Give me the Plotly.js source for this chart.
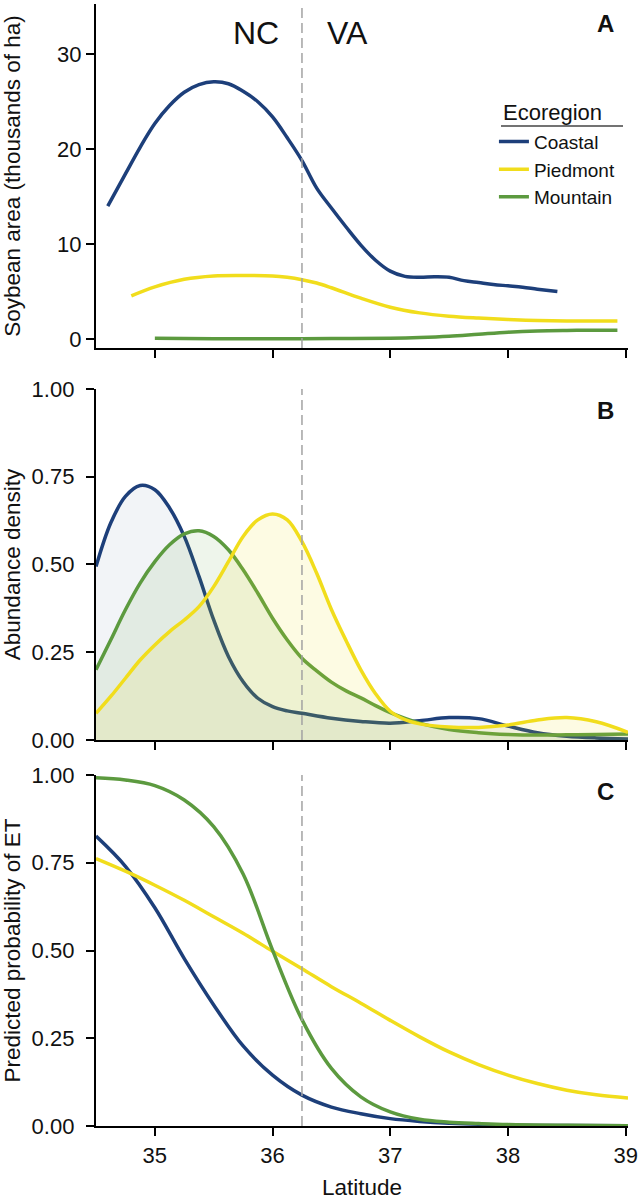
<!DOCTYPE html>
<html>
<head>
<meta charset="utf-8">
<script src="https://cdn.plot.ly/plotly-3.0.1.min.js"></script>
<style>html,body{margin:0;padding:0;background:#fff;}#chart{width:640px;height:1200px;}</style>
</head>
<body>
<div id="chart"></div>
<script>
// ---- Panel A: soybean area (thousands of ha) ----
const areaCoastalLat = [34.60,34.75,34.875,35.0,35.125,35.25,35.375,35.5,35.625,35.75,35.875,36.0,36.125,36.25,36.375,36.5,36.625,36.75,36.875,37.0,37.125,37.25,37.375,37.5,37.625,37.75,37.875,38.0,38.125,38.25,38.42];
const areaCoastal    = [14.0,17.4,20.2,22.7,24.6,26.0,26.8,27.1,26.9,26.1,25.0,23.4,21.2,18.8,15.9,13.8,11.8,9.9,8.3,7.15,6.6,6.5,6.55,6.5,6.15,5.95,5.75,5.6,5.45,5.25,5.0];
const areaPiedmontLat = [34.80,35.0,35.25,35.5,35.75,36.0,36.125,36.25,36.375,36.5,36.75,37.0,37.25,37.5,37.75,38.0,38.25,38.5,38.75,38.93];
const areaPiedmont    = [4.55,5.5,6.3,6.65,6.7,6.65,6.5,6.25,5.9,5.4,4.3,3.35,2.75,2.4,2.2,2.05,1.95,1.9,1.9,1.9];
const areaMountainLat = [35.0,35.5,36.0,36.5,37.0,37.25,37.5,37.75,38.0,38.25,38.5,38.75,38.93];
const areaMountain    = [0.07,0.03,0.03,0.05,0.08,0.15,0.28,0.5,0.72,0.85,0.9,0.92,0.92];

// ---- Panel B: abundance density ----
const densCoastalLat = [34.5,34.625,34.75,34.875,35.0,35.125,35.25,35.375,35.5,35.625,35.75,35.875,36.0,36.125,36.25,36.5,36.75,37.0,37.25,37.5,37.75,38.0,38.25,38.5,38.75,39.02];
const densCoastal    = [0.494,0.618,0.694,0.725,0.713,0.661,0.580,0.466,0.342,0.238,0.166,0.119,0.095,0.083,0.076,0.062,0.053,0.048,0.055,0.064,0.061,0.040,0.021,0.011,0.006,0.003];
const densPiedmontLat = [34.5,34.625,34.75,34.875,35.0,35.125,35.25,35.375,35.5,35.625,35.75,35.875,36.0,36.125,36.25,36.375,36.5,36.625,36.75,36.875,37.0,37.125,37.25,37.5,37.75,38.0,38.25,38.5,38.75,39.02];
const densPiedmont    = [0.076,0.124,0.176,0.228,0.271,0.309,0.342,0.380,0.437,0.508,0.580,0.627,0.644,0.627,0.565,0.475,0.372,0.283,0.200,0.132,0.082,0.058,0.046,0.037,0.036,0.043,0.057,0.064,0.052,0.022];
const densMountainLat = [34.5,34.625,34.75,34.875,35.0,35.125,35.25,35.375,35.5,35.625,35.75,35.875,36.0,36.125,36.25,36.375,36.5,36.625,36.75,36.875,37.0,37.25,37.5,37.75,38.0,38.25,38.5,38.75,39.02];
const densMountain    = [0.200,0.285,0.371,0.447,0.508,0.556,0.587,0.596,0.580,0.542,0.485,0.418,0.347,0.285,0.233,0.197,0.165,0.140,0.120,0.098,0.078,0.048,0.030,0.021,0.016,0.014,0.015,0.016,0.017];

// ---- Panel C: predicted probability of ET ----
const probCoastalLat = [34.5,34.75,35.0,35.25,35.5,35.75,36.0,36.25,36.5,36.75,37.0,37.25,37.5,38.0,38.5,39.02];
const probCoastal    = [0.826,0.740,0.622,0.477,0.345,0.228,0.145,0.088,0.054,0.035,0.021,0.013,0.008,0.003,0.0015,0.001];
const probPiedmontLat = [34.5,34.75,35.0,35.25,35.5,35.75,36.0,36.25,36.5,36.75,37.0,37.25,37.5,37.75,38.0,38.25,38.5,38.75,39.02];
const probPiedmont    = [0.762,0.726,0.686,0.643,0.596,0.549,0.498,0.448,0.397,0.350,0.301,0.254,0.211,0.175,0.145,0.121,0.102,0.089,0.080];
const probMountainLat = [34.5,34.75,35.0,35.25,35.5,35.75,36.0,36.25,36.5,36.75,37.0,37.25,37.5,37.75,38.0,38.5,39.02];
const probMountain    = [0.992,0.986,0.970,0.929,0.853,0.718,0.501,0.303,0.164,0.083,0.040,0.019,0.011,0.007,0.004,0.002,0.001];

const ecoregions = ["Coastal","Piedmont","Mountain"];
const legendTitle = "Ecoregion";
const stateLabels = ["NC","VA"];
const panelLabels = ["A","B","C"];
const xTicks = [35,36,37,38,39];
const boundaryLat = 36.25;

const colors = {Coastal:"#1d3f7a", Piedmont:"#f1dd1c", Mountain:"#5c9a3f"};
const fills  = {Coastal:"rgba(29,63,122,0.06)", Piedmont:"rgba(241,221,28,0.12)", Mountain:"rgba(92,154,63,0.10)"};

const FONT = "Liberation Sans, Arial, Helvetica, sans-serif";
const LW = 3.5;
const TICK = 22, TITLE = 22.5;

function line(name, x, y, xa, ya, showlegend, fill) {
  const t = {
    type:"scatter", mode:"lines", name:name, x:x, y:y,
    xaxis:xa, yaxis:ya, showlegend:showlegend, legendgroup:name,
    line:{color:colors[name], width:LW, shape:"spline", smoothing:1},
    hoverinfo:"skip"
  };
  if (fill) { t.fill = "tozeroy"; t.fillcolor = fills[name]; }
  return t;
}

const data = [
  line("Coastal", areaCoastalLat, areaCoastal, "x", "y", true),
  line("Piedmont", areaPiedmontLat, areaPiedmont, "x", "y", true),
  line("Mountain", areaMountainLat, areaMountain, "x", "y", true),
  line("Coastal", densCoastalLat, densCoastal, "x2", "y2", false, true),
  line("Mountain", densMountainLat, densMountain, "x2", "y2", false, true),
  line("Piedmont", densPiedmontLat, densPiedmont, "x2", "y2", false, true),
  line("Coastal", probCoastalLat, probCoastal, "x3", "y3", false),
  line("Piedmont", probPiedmontLat, probPiedmont, "x3", "y3", false),
  line("Mountain", probMountainLat, probMountain, "x3", "y3", false)
];

const xrange = [34.5, 39.02];
function xax(anchor, labels) {
  return {
    anchor:anchor, range:xrange, tickvals:xTicks, ticktext:xTicks.map(String),
    showticklabels:labels, ticks:"outside", ticklen:8, tickwidth:2, tickcolor:"#000",
    showline:true, linecolor:"#000", linewidth:2.2, showgrid:false, zeroline:false,
    tickfont:{family:FONT, size:TICK, color:"#111"}, fixedrange:true
  };
}
function yax(domain, range, tickvals, ticktext, title, standoff, labelOff) {
  return {
    domain:domain, range:range, tickvals:tickvals, ticktext:ticktext,
    ticks:"outside", ticklen:8, tickwidth:2, tickcolor:"#000",
    showline:true, linecolor:"#000", linewidth:2.2, showgrid:false, zeroline:false,
    ticklabelstandoff:labelOff,
    tickfont:{family:FONT, size:TICK, color:"#111"},
    title:{text:title, font:{family:FONT, size:TITLE, color:"#111"}, standoff:standoff},
    fixedrange:true
  };
}

const layout = {
  width:640, height:1200,
  margin:{l:96, r:12, t:4, b:74},
  paper_bgcolor:"#fff", plot_bgcolor:"rgba(0,0,0,0)",
  font:{family:FONT, color:"#111"},
  xaxis: xax("y", false),
  xaxis2: xax("y2", false),
  xaxis3: Object.assign(xax("y3", true), {title:{text:"Latitude", font:{family:FONT, size:TITLE, color:"#111"}, standoff:14}}),
  yaxis: yax([0.6934,1], [-0.95,35.3], [0,10,20,30], ["0","10","20","30"], "Soybean area (thousands of ha)", 34, 0),
  yaxis2: yax([0.3440,0.6569], [0,1], [0,0.25,0.5,0.75,1], ["0.00","0.25","0.50","0.75","1.00"], "Abundance density", 5, 7),
  yaxis3: yax([0,0.3128], [0,1], [0,0.25,0.5,0.75,1], ["0.00","0.25","0.50","0.75","1.00"], "Predicted probability of ET", 5, 7),
  showlegend:true,
  legend:{
    x:0.748, y:0.8943, xanchor:"left", yanchor:"top",
    bgcolor:"rgba(0,0,0,0)", borderwidth:0,
    font:{family:FONT, size:19, color:"#111"},
    traceorder:"normal"
  },
  shapes:[
    {type:"line", xref:"x", yref:"y domain", x0:boundaryLat, x1:boundaryLat, y0:0, y1:1, line:{color:"#a3a3a3", width:1.5, dash:"10px,5px"}},
    {type:"line", xref:"x2", yref:"y2 domain", x0:boundaryLat, x1:boundaryLat, y0:0, y1:1, line:{color:"#a3a3a3", width:1.5, dash:"10px,5px"}},
    {type:"line", xref:"x3", yref:"y3 domain", x0:boundaryLat, x1:boundaryLat, y0:0, y1:1, line:{color:"#a3a3a3", width:1.5, dash:"10px,5px"}},
    {type:"line", xref:"paper", yref:"paper", x0:(501-96)/532, x1:(623-96)/532, y0:(1126-126)/1122, y1:(1126-126)/1122, line:{color:"#444", width:1.5}}
  ],
  annotations:[
    {text:legendTitle, xref:"paper", yref:"paper", x:(501-96)/532, y:(1126-112)/1122, xanchor:"left", yanchor:"middle", showarrow:false, font:{family:FONT, size:22, color:"#111"}},
    {text:stateLabels[0], xref:"x", yref:"y", x:35.86, y:32.2, xanchor:"center", yanchor:"middle", showarrow:false, font:{family:FONT, size:32, color:"#111"}},
    {text:stateLabels[1], xref:"x", yref:"y", x:36.64, y:32.2, xanchor:"center", yanchor:"middle", showarrow:false, font:{family:FONT, size:32, color:"#111"}},
    {text:"<b>"+panelLabels[0]+"</b>", xref:"paper", yref:"paper", x:(605.7-96)/532, y:(1126-23.3)/1122, xanchor:"center", yanchor:"middle", showarrow:false, font:{family:FONT, size:24, color:"#111"}},
    {text:"<b>"+panelLabels[1]+"</b>", xref:"paper", yref:"paper", x:(605.7-96)/532, y:(1126-410.7)/1122, xanchor:"center", yanchor:"middle", showarrow:false, font:{family:FONT, size:24, color:"#111"}},
    {text:"<b>"+panelLabels[2]+"</b>", xref:"paper", yref:"paper", x:(605.7-96)/532, y:(1126-791.7)/1122, xanchor:"center", yanchor:"middle", showarrow:false, font:{family:FONT, size:24, color:"#111"}}
  ]
};

Plotly.newPlot("chart", data, layout, {staticPlot:true, displayModeBar:false});
</script>
</body>
</html>
